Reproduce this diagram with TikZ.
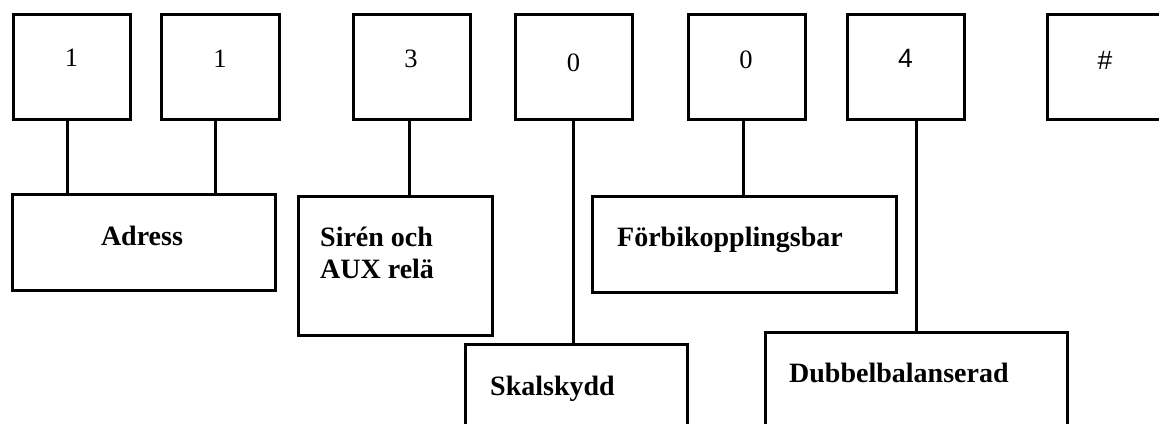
\documentclass[tikz,border=0pt]{standalone}
\usepackage{fontspec}
\setmainfont{Liberation Serif}
\newfontfamily\arialfont{Liberation Sans}
\begin{document}
\begin{tikzpicture}[x=1pt,y=-1pt,
  box/.style={draw, line width=3pt, inner sep=0pt, outer sep=0pt, anchor=north west},
  topbox/.style={box, minimum width=117pt, minimum height=105pt},
  conn/.style={draw, line width=3pt},
  dig/.style={inner sep=0pt, anchor=base, font=\fontsize{26.5}{30}\selectfont},
  sdig/.style={inner sep=0pt, anchor=base, font=\arialfont\fontsize{26.5}{30}\selectfont},
  lbl/.style={inner sep=0pt, anchor=base west, font=\bfseries\fontsize{28}{32}\selectfont}]
\useasboundingbox (0,0) rectangle (1159,423);
\clip (0,0) rectangle (1159,423);
% top boxes
\node[topbox] (b1) at (13.5,14.5) {};
\node[topbox, minimum width=117.5pt] (b2) at (161.5,14.5) {};
\node[topbox, minimum width=116.5pt] (b3) at (353.5,14.5) {};
\node[topbox, minimum width=116.5pt] (b4) at (515.5,14.5) {};
\node[topbox, minimum width=116.5pt] (b5) at (688.5,14.5) {};
\node[topbox, minimum width=116.5pt] (b6) at (847.5,14.5) {};
\node[topbox] (b7) at (1047,14.5) {};
% digits
\node[dig] (t1) at (71.5,66) {1};
\node[dig] (t2) at (220,67) {1};
\node[dig] (t3) at (411,67.5) {3};
\node[dig] (t4) at (573.5,71) {0};
\node[dig] (t5) at (746,68) {0};
\node[sdig] (t6) at (905.5,67) {4};
\node[sdig] (t7) at (1105,69) {\#};
% lower boxes
\node[box, minimum width=263.5pt, minimum height=96pt] (adr) at (12,194) {};
\node[box, minimum width=194pt, minimum height=139pt] (sir) at (298.5,196) {};
\node[box, minimum width=303.5pt, minimum height=96pt] (forb) at (592.5,196) {};
\node[box, minimum width=222pt, minimum height=130pt] (skal) at (465,344.5) {};
\node[box, minimum width=302.5pt, minimum height=140pt] (dub) at (765,332.5) {};
% labels
\node[lbl, anchor=base] (ladr) at (142,245) {Adress};
\node[lbl] (lsir1) at (320,246) {Sirén och};
\node[lbl] (lsir2) at (320,278) {AUX relä};
\node[lbl] (lforb) at (617,246) {Förbikopplingsbar};
\node[lbl] (lskal) at (490,395) {Skalskydd};
\node[lbl] (ldub) at (789,382) {Dubbelbalanserad};
% connector x positions
\coordinate (x1) at (67.5,0);
\coordinate (x2) at (215.2,0);
\coordinate (x3) at (409.5,0);
\coordinate (x4) at (573.5,0);
\coordinate (x5) at (743.5,0);
\coordinate (x6) at (916,0);
\draw[conn] (b1.south -| x1) -- (adr.north -| x1);
\draw[conn] (b2.south -| x2) -- (adr.north -| x2);
\draw[conn] (b3.south -| x3) -- (sir.north -| x3);
\draw[conn] (b4.south -| x4) -- (skal.north -| x4);
\draw[conn] (b5.south -| x5) -- (forb.north -| x5);
\draw[conn] (b6.south -| x6) -- (dub.north -| x6);
\end{tikzpicture}
\end{document}
